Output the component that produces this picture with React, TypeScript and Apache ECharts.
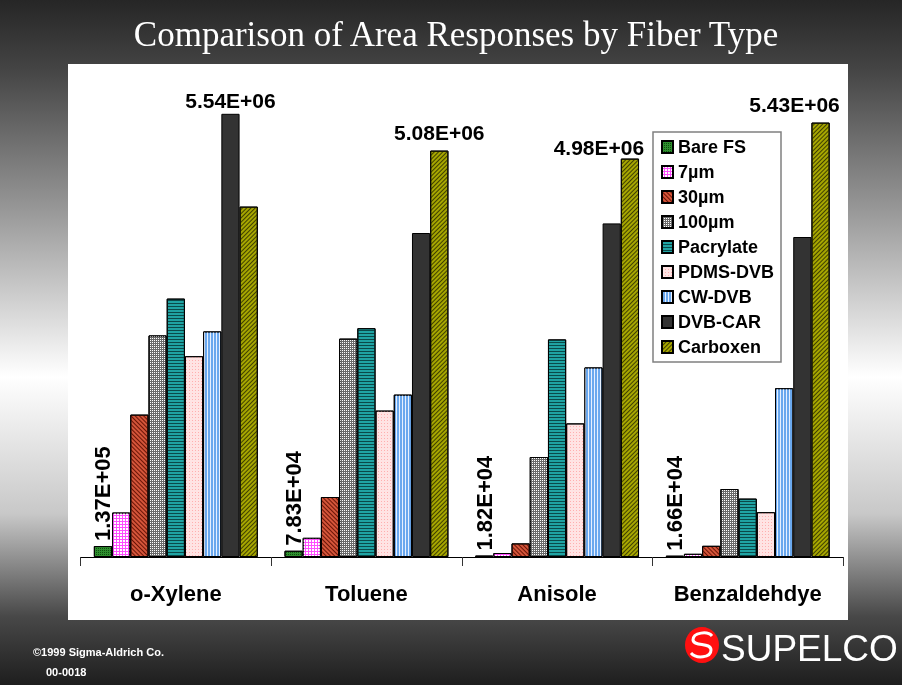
import React, { useEffect, useRef } from "react";
import * as echarts from "echarts";

const categories = ["o-Xylene", "Toluene", "Anisole", "Benzaldehdye"];
const fiberNames = ["Bare FS", "7µm", "30µm", "100µm", "Pacrylate", "PDMS-DVB", "CW-DVB", "DVB-CAR", "Carboxen"];

const bareFS = [1.37e5, 7.83e4, 1.82e4, 1.66e4];
const um7 = [0.556e6, 0.24e6, 0.05e6, 0.04e6];
const um30 = [1.78e6, 0.75e6, 0.17e6, 0.14e6];
const um100 = [2.77e6, 2.73e6, 1.25e6, 0.85e6];
const pacrylate = [3.23e6, 2.86e6, 2.72e6, 0.73e6];
const pdmsDvb = [2.51e6, 1.83e6, 1.67e6, 0.56e6];
const cwDvb = [2.82e6, 2.03e6, 2.37e6, 2.11e6];
const dvbCar = [5.54e6, 4.05e6, 4.17e6, 4.0e6];
const carboxen = [4.38e6, 5.08e6, 4.98e6, 5.43e6];

const seriesValues = [bareFS, um7, um30, um100, pacrylate, pdmsDvb, cwDvb, dvbCar, carboxen];

// label offsets for max-value labels per category (style)
const maxLabelOffsets = [[0, 0], [0, -5], [-31, 2], [-26, -5]];

const fiberStyles: any[] = [
  { color: "#2f8f2f", decal: { symbol: "rect", symbolSize: 1, color: "#105010", dashArrayX: [1, 1], dashArrayY: [1, 1] } },
  { color: "#ff4dff", decal: { symbol: "rect", symbolSize: 1, color: "#ffffff", dashArrayX: [2, 1], dashArrayY: [2, 1] } },
  { color: "#d4553a", decal: { symbol: "rect", symbolSize: 1, color: "#6a1406", dashArrayX: [1, 0], dashArrayY: [1, 1.5], rotation: Math.PI / 4 } },
  { color: "#6a6a6a", decal: { symbol: "rect", symbolSize: 1, color: "#ffffff", dashArrayX: [1, 1], dashArrayY: [1, 1] } },
  { color: "#1fa3a3", decal: { symbol: "rect", symbolSize: 1, color: "#0a4a4a", dashArrayX: [1, 0], dashArrayY: [1, 2] } },
  { color: "#ffe4e4", decal: { symbol: "rect", symbolSize: 1, color: "#ffb0b0", dashArrayX: [1, 2], dashArrayY: [1, 2] } },
  { color: "#6aa8ee", decal: { symbol: "rect", symbolSize: 1, color: "#e6f0ff", dashArrayX: [1, 2], dashArrayY: [1, 0] } },
  { color: "#333333" },
  { color: "#a6a600", decal: { symbol: "rect", symbolSize: 1, color: "#3f3f00", dashArrayX: [1, 0], dashArrayY: [1, 1.5], rotation: -Math.PI / 4 } },
];

function sci(v: number): string {
  const e = Math.floor(Math.log10(v));
  const m = v / Math.pow(10, e);
  return m.toFixed(2) + "E+" + String(e).padStart(2, "0");
}

let registered = false;

export default function App() {
  const ref = useRef<HTMLDivElement>(null);
  useEffect(() => {
    if (!ref.current) return;
    if (!registered) {
      echarts.graphic.registerShape(
        "sLogo",
        echarts.graphic.extendPath(
          "M 10 -9 C 6 -14, -9 -13, -9 -5 C -8 2, 9 -3, 9 5 C 9 13, -6 14, -11 8",
          {}
        )
      );
      registered = true;
    }
    const chart = echarts.init(ref.current, null, { renderer: "svg" });

    const maxIdx = categories.map((_, ci) => {
      let best = 0;
      seriesValues.forEach((arr, si) => {
        if (arr[ci] > seriesValues[best][ci]) best = si;
      });
      return best;
    });

    const series = seriesValues.map((vals, si) => ({
      name: fiberNames[si],
      type: "bar",
      barGap: "0%",
      barCategoryGap: "14%",
      itemStyle: {
        color: fiberStyles[si].color,
        decal: fiberStyles[si].decal,
        borderColor: "#000",
        borderWidth: 1,
      },
      label: { show: false },
      data: vals.map((v, ci) => {
        if (si === 0) {
          return {
            value: v,
            label: {
              show: true,
              position: "top",
              rotate: 90,
              align: "left",
              verticalAlign: "middle",
              distance: 5,
              fontSize: 22,
              fontWeight: "bold",
              fontFamily: "Liberation Sans",
              color: "#000",
              formatter: (p: any) => sci(p.value),
            },
          };
        }
        if (maxIdx[ci] === si) {
          return {
            value: v,
            label: {
              show: true,
              position: "top",
              distance: 3,
              offset: maxLabelOffsets[ci],
              fontSize: 21,
              fontWeight: "bold",
              fontFamily: "Liberation Sans",
              color: "#000",
              formatter: (p: any) => sci(p.value),
            },
          };
        }
        return v;
      }),
    }));

    chart.setOption({
      animation: false,
      textStyle: { fontFamily: "Liberation Sans" },
      graphic: [
        {
          type: "rect",
          z: -20,
          shape: { x: 0, y: 0, width: 902, height: 685 },
          style: {
            fill: {
              type: "linear",
              x: 0, y: 0, x2: 0, y2: 1,
              colorStops: [
                { offset: 0, color: "#262626" },
                { offset: 0.1, color: "#444444" },
                { offset: 0.3, color: "#959595" },
                { offset: 0.55, color: "#ffffff" },
                { offset: 0.75, color: "#c8c8c8" },
                { offset: 0.9, color: "#484848" },
                { offset: 1, color: "#1e1e1e" },
              ],
            },
          },
        },
        {
          type: "rect",
          z: -10,
          shape: { x: 68, y: 64, width: 780, height: 556 },
          style: { fill: "#ffffff" },
        },
        {
          type: "text",
          z: 10,
          x: 456,
          y: 34,
          style: {
            text: "Comparison of Area Responses by Fiber Type",
            fill: "#ffffff",
            font: "35px 'Liberation Serif'",
            textAlign: "center",
            textVerticalAlign: "middle",
          },
        },
        {
          type: "text",
          z: 10,
          x: 33,
          y: 652,
          style: {
            text: "©1999 Sigma-Aldrich Co.",
            fill: "#ffffff",
            font: "bold 11px 'Liberation Sans'",
            textVerticalAlign: "middle",
          },
        },
        {
          type: "text",
          z: 10,
          x: 46,
          y: 672,
          style: {
            text: "00-0018",
            fill: "#ffffff",
            font: "bold 11px 'Liberation Sans'",
            textVerticalAlign: "middle",
          },
        },
        {
          type: "ellipse",
          z: 10,
          shape: { cx: 702, cy: 645, rx: 17, ry: 18 },
          style: { fill: "#ff1010" },
        },
        {
          type: "sLogo",
          z: 11,
          x: 702,
          y: 645,
          style: { fill: "none", stroke: "#ffffff", lineWidth: 3 },
        },
        {
          type: "text",
          z: 10,
          x: 721,
          y: 648,
          style: {
            text: "SUPELCO",
            fill: "#ffffff",
            font: "37px 'Liberation Sans'",
            textVerticalAlign: "middle",
          },
        },
      ],
      legend: {
        orient: "vertical",
        left: 653,
        top: 132,
        backgroundColor: "#ffffff",
        borderColor: "#808080",
        borderWidth: 1.5,
        padding: [5, 7, 5, 8],
        itemWidth: 11,
        itemHeight: 12,
        itemGap: 5,
        icon: "rect",
        textStyle: {
          fontSize: 18,
          fontWeight: "bold",
          color: "#000",
          lineHeight: 20,
          fontFamily: "Liberation Sans",
        },
        data: fiberNames,
      },
      grid: { left: 80.5, top: 77, width: 762.5, height: 480 },
      xAxis: {
        type: "category",
        data: categories,
        axisLine: { lineStyle: { color: "#000", width: 1 } },
        axisTick: { show: true, interval: 0, length: 9, lineStyle: { color: "#333" } },
        axisLabel: {
          interval: 0,
          fontSize: 22,
          fontWeight: "bold",
          color: "#000",
          margin: 25,
          fontFamily: "Liberation Sans",
        },
      },
      yAxis: {
        type: "value",
        min: 0,
        max: 6e6,
        show: false,
        splitLine: { show: false },
      },
      series,
    });
    return () => chart.dispose();
  }, []);
  return <div ref={ref} style={{ position: "fixed", left: 0, top: 0, width: 902, height: 685 }} />;
}
